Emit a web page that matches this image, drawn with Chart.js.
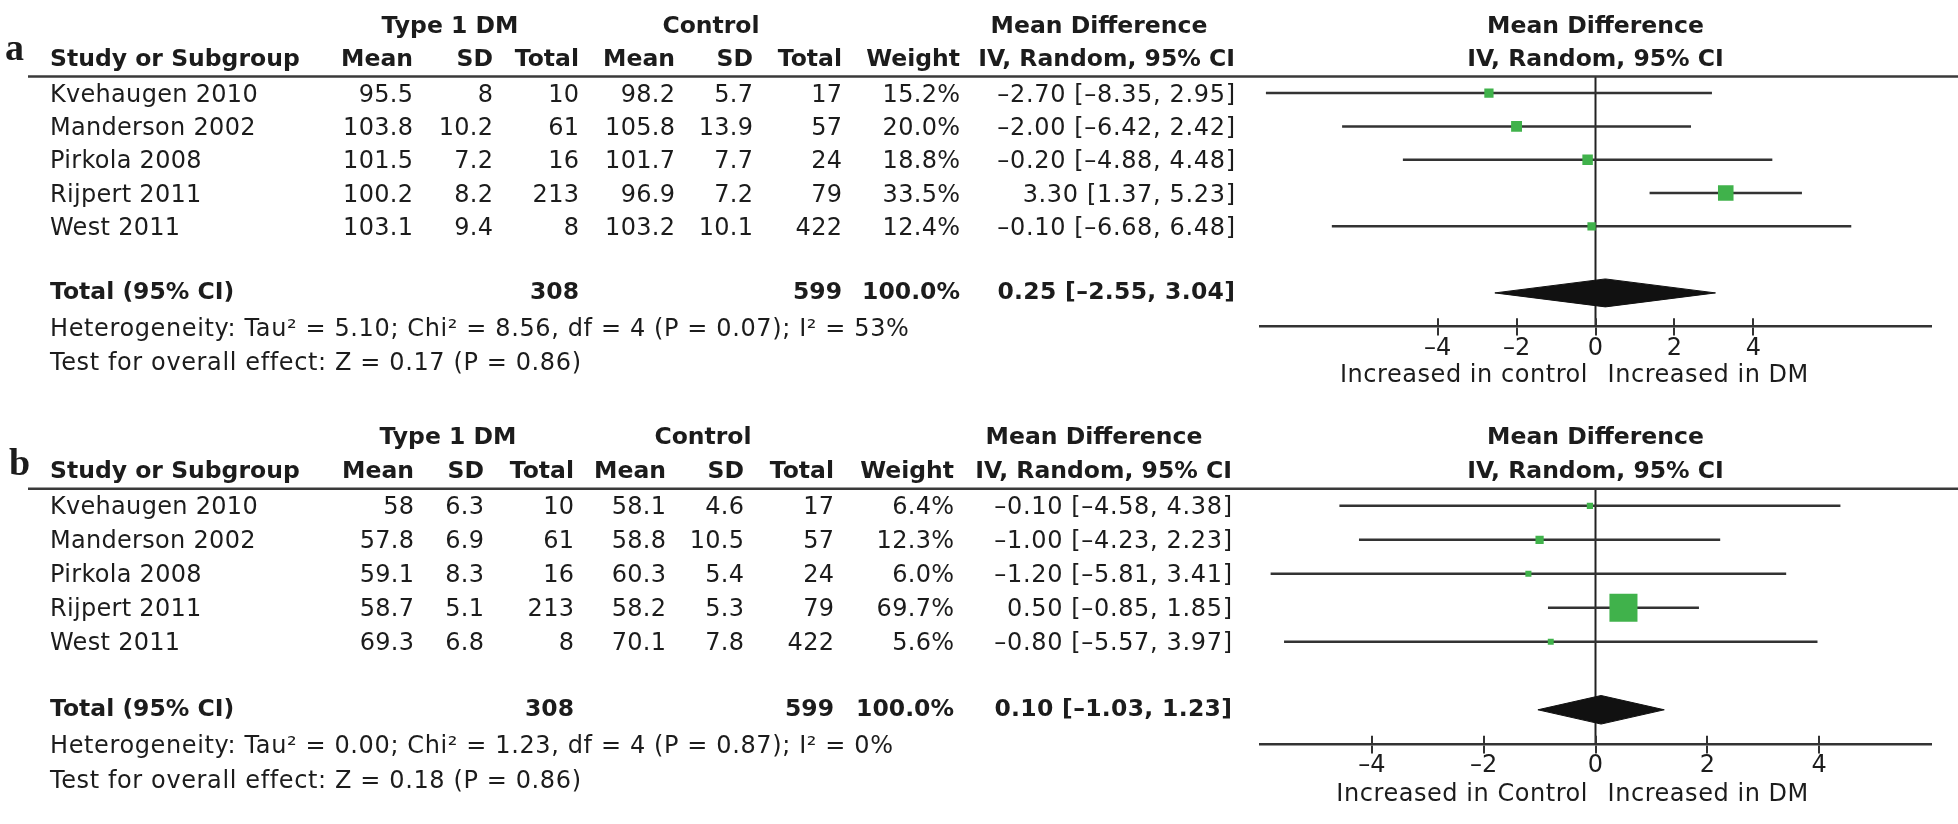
<!DOCTYPE html>
<html><head><meta charset="utf-8">
<script src="https://cdn.jsdelivr.net/npm/chart.js@4.4.0/dist/chart.umd.min.js"></script>
<style>
html,body{margin:0;padding:0;background:#fff;width:1958px;height:824px;overflow:hidden}
canvas{position:absolute;left:0}
#ca{top:0}
#cb{top:414px}
</style></head><body>
<canvas id="ca" width="1958" height="410"></canvas>
<canvas id="cb" width="1958" height="410"></canvas>
<script>
// ---------- data ----------
const studies = ['Kvehaugen 2010','Manderson 2002','Pirkola 2008','Rijpert 2011','West 2011'];
const dmN = [10,61,16,213,8];
const ctN = [17,57,24,79,422];
const totalN = [308,599];

// panel a
const aDmMean = [95.5,103.8,101.5,100.2,103.1];
const aDmSD   = [8,10.2,7.2,8.2,9.4];
const aCtMean = [98.2,105.8,101.7,96.9,103.2];
const aCtSD   = [5.7,13.9,7.7,7.2,10.1];
const aWeight = [15.2,20.0,18.8,33.5,12.4];
const aMD     = [-2.70,-2.00,-0.20,3.30,-0.10];
const aLo     = [-8.35,-6.42,-4.88,1.37,-6.68];
const aHi     = [2.95,2.42,4.48,5.23,6.48];
const aTotal  = [0.25,-2.55,3.04];          // estimate, lower, upper
const aHet    = [5.10,8.56,4,0.07,53];      // Tau2, Chi2, df, P, I2
const aTest   = [0.17,0.86];                // Z, P

// panel b
const bDmMean = [58,57.8,59.1,58.7,69.3];
const bDmSD   = [6.3,6.9,8.3,5.1,6.8];
const bCtMean = [58.1,58.8,60.3,58.2,70.1];
const bCtSD   = [4.6,10.5,5.4,5.3,7.8];
const bWeight = [6.4,12.3,6.0,69.7,5.6];
const bMD     = [-0.10,-1.00,-1.20,0.50,-0.80];
const bLo     = [-4.58,-4.23,-5.81,-0.85,-5.57];
const bHi     = [4.38,2.23,3.41,1.85,3.97];
const bTotal  = [0.10,-1.03,1.23];
const bHet    = [0.00,1.23,4,0.87,0];
const bTest   = [0.18,0.86];

const tickVals = [-4,-2,0,2,4];
const aRange = [-8.5,8.5];
const bRange = [-6,6];

// ---------- layout / style ----------
const FONT = '"DejaVu Sans", sans-serif';
const REG = 24, BOLD = 23.5;
const TXT = '#1c1c1c';
const GREEN = '#40b24b';
const LINE = '#333333';

const layoutA = {letter:'a', letterX:5, letterDy:0, colR:[413,493,579,675,753,842,960,1235], grpC:[450,711,1099], yMin:-2.6, yMax:9.32, ctrlLabel:'Increased in control'};
const layoutB = {letter:'b', letterX:9, letterDy:3, colR:[414,484,574,666,744,834,954,1232], grpC:[448,703,1094], yMin:-2.57, yMax:9.23, ctrlLabel:'Increased in Control'};

const RULE_ROW = -0.5, TOTAL_ROW = 6, AXIS_ROW = 7;
const DIAMOND_H = 0.42;

const dash = s => s.replace(/-/g,'\u2013');
const f2 = v => dash(v.toFixed(2));
const boxSide = w => 4 + 0.345*w;

function datasetsFor(md, lo, hi, wt, tot){
  const ds = [];
  ds.push({data: md.map((m,i)=>({x:m,y:i})), showLine:false, pointStyle:'rect',
    pointRadius: wt.map(w=>boxSide(w)/Math.SQRT2), pointBorderWidth:0,
    pointBackgroundColor:GREEN, backgroundColor:GREEN, borderColor:GREEN, order:0});
  md.forEach((m,i)=>ds.push({data:[{x:lo[i],y:i},{x:hi[i],y:i}], borderColor:LINE, borderWidth:2.5, pointRadius:0, fill:false, order:2}));
  ds.push({data:[{x:0,y:RULE_ROW},{x:0,y:AXIS_ROW}], borderColor:'#222', borderWidth:2, pointRadius:0, fill:false, order:3});
  ds.push({data:[{x:tot[1],y:TOTAL_ROW},{x:tot[0],y:TOTAL_ROW-DIAMOND_H},{x:tot[2],y:TOTAL_ROW}], borderColor:'#111', borderWidth:1, pointRadius:0, fill:false, order:1});
  ds.push({data:[{x:tot[1],y:TOTAL_ROW},{x:tot[0],y:TOTAL_ROW+DIAMOND_H},{x:tot[2],y:TOTAL_ROW}], borderColor:'#111', borderWidth:1, pointRadius:0, fill:'-1', backgroundColor:'#111', order:1});
  return ds;
}

const tablePlugin = {
  id:'forestTable',
  afterDraw(chart, args, o){
    const P = o.panel, L = o.layout;
    if(!P) return;
    const ctx = chart.ctx, ys = chart.scales.y, xs = chart.scales.x;
    const ry = r => ys.getPixelForValue(r);
    const zero = xs.getPixelForValue(0);
    ctx.save();
    ctx.fillStyle = TXT;
    ctx.textBaseline = 'middle';
    const put = (t, px, r, align, bold, sp) => {
      ctx.font = (bold ? 'bold ' + BOLD : REG) + 'px ' + FONT;
      ctx.textAlign = align;
      ctx.letterSpacing = (sp || 0) + 'px';
      const adj = (align === 'right' && sp) ? sp : 0;
      ctx.fillText(t, px + adj, ry(r));
      ctx.letterSpacing = '0px';
    };
    // panel letter
    ctx.font = 'bold 38px "Liberation Serif", "DejaVu Serif", serif';
    ctx.textAlign = 'left'; ctx.textBaseline = 'alphabetic';
    ctx.fillText(L.letter, L.letterX, ry(-1) + L.letterDy);
    ctx.textBaseline = 'middle';
    // group headers
    put('Type 1 DM', L.grpC[0], -2, 'center', true);
    put('Control', L.grpC[1], -2, 'center', true);
    put('Mean Difference', L.grpC[2], -2, 'center', true);
    put('Mean Difference', zero, -2, 'center', true);
    // column headers
    const hdr = ['Mean','SD','Total','Mean','SD','Total','Weight','IV, Random, 95% CI'];
    put('Study or Subgroup', 50, -1, 'left', true);
    hdr.forEach((h,k)=>put(h, L.colR[k], -1, 'right', true));
    put('IV, Random, 95% CI', zero, -1, 'center', true);
    // rule
    ctx.strokeStyle = '#3a3a3a'; ctx.lineWidth = 2.5;
    ctx.beginPath(); ctx.moveTo(28, ry(RULE_ROW)); ctx.lineTo(1958, ry(RULE_ROW)); ctx.stroke();
    // study rows
    studies.forEach((s,i)=>{
      const r = i + 0.07;
      put(s, 50, r, 'left', false, 0.3);
      const cells = [String(P.dmMean[i]), String(P.dmSD[i]), String(dmN[i]), String(P.ctMean[i]), String(P.ctSD[i]), String(ctN[i]),
        P.wt[i].toFixed(1)+'%'];
      cells.forEach((c,k)=>put(c, L.colR[k], r, 'right', false, 0.3));
      put(f2(P.md[i])+' ['+f2(P.lo[i])+', '+f2(P.hi[i])+']', L.colR[7], r, 'right', false, 0.65);
    });
    // total row
    put('Total (95% CI)', 50, TOTAL_ROW, 'left', true);
    put(String(totalN[0]), L.colR[2], TOTAL_ROW, 'right', true);
    put(String(totalN[1]), L.colR[5], TOTAL_ROW, 'right', true);
    put('100.0%', L.colR[6], TOTAL_ROW, 'right', true);
    put(f2(P.tot[0])+' ['+f2(P.tot[1])+', '+f2(P.tot[2])+']', L.colR[7], TOTAL_ROW, 'right', true, 0.3);
    // heterogeneity and test
    const h = P.het;
    put('Heterogeneity: Tau\u00b2 = '+h[0].toFixed(2)+'; Chi\u00b2 = '+h[1].toFixed(2)+', df = '+h[2]+' (P = '+h[3].toFixed(2)+'); I\u00b2 = '+h[4]+'%', 50, 7.1, 'left', false, 0.62);
    put('Test for overall effect: Z = '+P.test[0].toFixed(2)+' (P = '+P.test[1].toFixed(2)+')', 50, 8.12, 'left', false, 0.62);
    // direction labels
    put(L.ctrlLabel, zero - 8, 8.5, 'right', false, 0.55);
    put('Increased in DM', zero + 12, 8.5, 'left', false, 0.55);
    // upper halves of tick marks (ticks cross the axis)
    ctx.strokeStyle = LINE; ctx.lineWidth = 2;
    const ay = ry(AXIS_ROW);
    xs.ticks.forEach(t=>{
      const px = Math.round(xs.getPixelForValue(t.value));
      ctx.beginPath(); ctx.moveTo(px, ay - 8); ctx.lineTo(px, ay); ctx.stroke();
    });
    ctx.restore();
  }
};

function makeChart(id, P, L, range){
  return new Chart(document.getElementById(id), {
    type:'line',
    data:{datasets: datasetsFor(P.md, P.lo, P.hi, P.wt, P.tot)},
    options:{
      responsive:false, animation:false, devicePixelRatio:1, events:[],
      layout:{padding:{left:1260, right:27, top:0, bottom:0}},
      plugins:{legend:{display:false}, tooltip:{enabled:false}, forestTable:{panel:P, layout:L}},
      elements:{line:{tension:0}},
      scales:{
        x:{type:'linear', min:range[0], max:range[1], position:{y:AXIS_ROW},
          afterBuildTicks: s => { s.ticks = tickVals.map(v=>({value:v})); },
          ticks:{font:{family:'DejaVu Sans', size:REG}, color:TXT, padding:0, maxRotation:0, autoSkip:false,
            callback: v => v < 0 ? '\u2013' + Math.abs(v) : String(v)},
          grid:{drawOnChartArea:false, drawTicks:true, tickLength:8, color:LINE, lineWidth:2},
          border:{display:true, color:LINE, width:2.5}
        },
        y:{type:'linear', display:false, reverse:true, min:L.yMin, max:L.yMax}
      }
    },
    plugins:[tablePlugin]
  });
}

const panelA = {dmMean:aDmMean, dmSD:aDmSD, ctMean:aCtMean, ctSD:aCtSD, wt:aWeight, md:aMD, lo:aLo, hi:aHi, tot:aTotal, het:aHet, test:aTest};
const panelB = {dmMean:bDmMean, dmSD:bDmSD, ctMean:bCtMean, ctSD:bCtSD, wt:bWeight, md:bMD, lo:bLo, hi:bHi, tot:bTotal, het:bHet, test:bTest};
makeChart('ca', panelA, layoutA, aRange);
makeChart('cb', panelB, layoutB, bRange);
</script>
</body></html>
